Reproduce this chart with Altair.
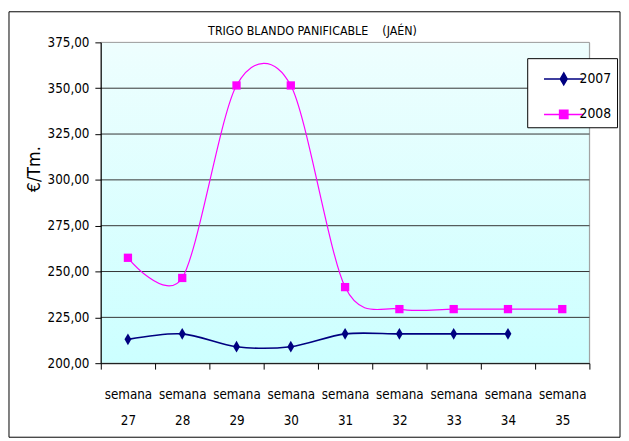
import altair as alt
import pandas as pd

weeks = ["semana 27", "semana 28", "semana 29", "semana 30", "semana 31",
         "semana 32", "semana 33", "semana 34", "semana 35"]
years = ["2007", "2008"]
prices_2007 = [213, 216, 209, 209, 216, 216, 216, 216, None]
prices_2008 = [257.5, 246.5, 351.5, 351.5, 241.5, 229.5, 229.5, 229.5, 229.5]
y_ticks = [200, 225, 250, 275, 300, 325, 350, 375]
colors = ["#000080", "#ff00ff"]
line_widths = [1.6, 1.2]
title_text = "TRIGO BLANDO PANIFICABLE\u00a0\u00a0\u00a0\u00a0(JAÉN)"

rows = []
for w, a, b in zip(weeks, prices_2007, prices_2008):
    if a is not None:
        rows.append({"semana": w, "year": "2007", "price": a})
    if b is not None:
        rows.append({"semana": w, "year": "2008", "price": b})
df = pd.DataFrame(rows)

W, H = 495, 325
FONT = "DejaVu Sans Condensed, Liberation Sans Narrow, Liberation Sans, sans-serif"

point_paths = ["M0,-1L0.58,0L0,1L-0.58,0Z", "M-0.7,-0.7H0.7V0.7H-0.7Z"]
legend_paths = ["M-1.333,0H1.333M0,-0.4L0.233,0L0,0.4L-0.233,0Z",
                "M-1.333,0H1.333M-0.28,-0.28H0.28V0.28H-0.28Z"]

x_enc = alt.X(
    "semana:N", sort=weeks,
    scale=alt.Scale(type="band", domain=weeks, paddingInner=0, paddingOuter=0),
    axis=alt.Axis(title=None, labelAngle=0, labelExpr="split(datum.label, ' ')",
                  tickBand="extent", tickSize=6, tickColor="black", domainColor="black",
                  labelFont=FONT, labelFontSize=13.5, labelLineHeight=26, labelPadding=19,
                  labelColor="black", labelBaseline="top", grid=False, zindex=1),
)
y_enc = alt.Y(
    "price:Q",
    scale=alt.Scale(domain=[200, 375], nice=False, zero=False),
    axis=alt.Axis(values=y_ticks, labelExpr="replace(format(datum.value, '.2f'), '.', ',')",
                  title="€/Tm.", grid=False, tickSize=6, tickColor="black", domainColor="black",
                  labelFont=FONT, labelFontSize=13.5, labelColor="black", labelPadding=6,
                  titleFont=FONT, titleFontSize=18, titleFontWeight="normal", titleColor="black",
                  titleAngle=270, titleX=-67, titleY=128, titleAlign="center",
                  titleBaseline="middle", zindex=1),
)

one = pd.DataFrame({"k": [0]})

frame = alt.Chart(one).mark_rect(
    fillOpacity=0, stroke="black", strokeWidth=1
).encode(x=alt.value(-93), x2=alt.value(526), y=alt.value(-31), y2=alt.value(400))

title = alt.Chart(one).mark_text(
    text=title_text, font=FONT, fontSize=12.5, color="black", align="center", baseline="alphabetic"
).encode(x=alt.value(W / 2 - 33), y=alt.value(-7))

bg = alt.Chart(one).mark_rect(
    color=alt.Gradient(gradient="linear", x1=0, x2=0, y1=0, y2=1,
                       stops=[alt.GradientStop(color="#eefefe", offset=0),
                              alt.GradientStop(color="#ccffff", offset=1)]),
    stroke="#999999", strokeWidth=1,
).encode(x=alt.value(0), x2=alt.value(W), y=alt.value(0), y2=alt.value(H))

grid = alt.Chart(pd.DataFrame({"price": y_ticks[1:-1]})).mark_rule(
    color="#333333", strokeWidth=1
).encode(y="price:Q")

lines = alt.Chart(df).mark_line(interpolate="cardinal", tension=0.1).encode(
    x=x_enc, y=y_enc,
    stroke=alt.Stroke("year:N", scale=alt.Scale(domain=years, range=colors), legend=None),
    strokeWidth=alt.StrokeWidth("year:N", scale=alt.Scale(domain=years, range=line_widths),
                                legend=None),
)

points = alt.Chart(df).mark_point(filled=True, size=144, opacity=1).encode(
    x=x_enc, y=y_enc,
    fill=alt.Fill("year:N", scale=alt.Scale(domain=years, range=colors), legend=None),
    shape=alt.Shape("year:N", scale=alt.Scale(domain=years, range=point_paths), legend=None),
)

leg = alt.Legend(orient="none", legendX=432, legendY=16, direction="vertical", title=None,
                 padding=5, symbolOffset=16, labelOffset=0, rowPadding=11, symbolSize=900,
                 symbolStrokeWidth=1.5, fillColor="white", strokeColor="black",
                 labelFont=FONT, labelFontSize=14, labelColor="black")

legend_layer = alt.Chart(df).mark_point(filled=True, size=900, opacity=1).encode(
    x=x_enc, y=y_enc,
    fill=alt.Fill("year:N", scale=alt.Scale(domain=years, range=colors), legend=leg),
    stroke=alt.Stroke("year:N", scale=alt.Scale(domain=years, range=colors), legend=leg),
    shape=alt.Shape("year:N", scale=alt.Scale(domain=years, range=legend_paths), legend=leg),
).transform_filter("false")

chart = alt.layer(frame, title, bg, grid, lines, points, legend_layer).resolve_scale(
    fill="independent", stroke="independent", shape="independent", strokeWidth="independent"
).properties(
    width=W, height=H,
    autosize=alt.AutoSizeParams(type="none"),
    padding={"left": 94, "top": 32, "right": 32, "bottom": 76},
).configure_view(stroke=None).configure(background="white")

chart.save("out.html", embed_options={"renderer": "svg", "actions": False})
